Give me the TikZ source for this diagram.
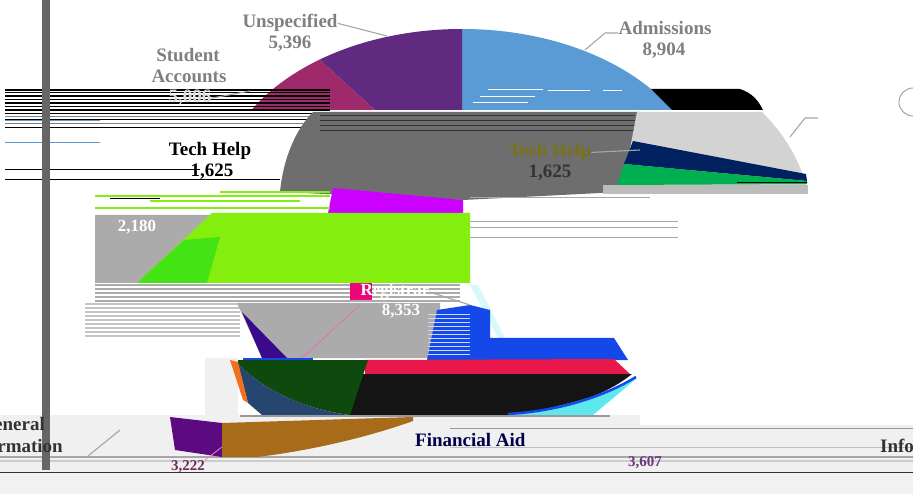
\documentclass[tikz,border=0pt]{standalone}
\usepackage{fontspec}
\setmainfont{Liberation Serif}
\definecolor{adm}{HTML}{5B9BD5}
\definecolor{unsp}{HTML}{5F2A80}
\definecolor{stud}{HTML}{9E2A6C}
\definecolor{dgray}{HTML}{6E6E6E}
\definecolor{lgray}{HTML}{D3D3D3}
\definecolor{navyc}{HTML}{002060}
\definecolor{grnc}{HTML}{00B050}
\definecolor{magc}{HTML}{CC00FF}
\definecolor{limec}{HTML}{84EE0E}
\definecolor{bgreen}{HTML}{44E414}
\definecolor{pgray}{HTML}{ABABAB}
\definecolor{indig}{HTML}{3B0A8C}
\definecolor{bluec}{HTML}{1448E8}
\definecolor{redc}{HTML}{E8184A}
\definecolor{blkc}{HTML}{141414}
\definecolor{dkgreen}{HTML}{0E4A0E}
\definecolor{steel}{HTML}{27466F}
\definecolor{orangec}{HTML}{F0701E}
\definecolor{purpc}{HTML}{5C0A80}
\definecolor{brownc}{HTML}{A86B1A}
\definecolor{cyanc}{HTML}{5EE8EE}
\definecolor{barc}{HTML}{666666}
\definecolor{bandc}{HTML}{F0F0F0}
\definecolor{labc}{HTML}{808080}
\tikzset{
  lab/.style={font=\fontsize{19}{21}\selectfont\bfseries, text=labc, inner sep=0pt, anchor=base},
  darklab/.style={font=\fontsize{19}{21}\selectfont\bfseries, text=black!80, inner sep=0pt, anchor=base},
  leader/.style={draw=gray!70, line width=1.1pt},
  stripe/.style={line width=1.3pt},
}
\begin{document}
\begin{tikzpicture}[x=1pt,y=-1pt]
\useasboundingbox (0,0) rectangle (913,494);
\fill[white] (0,0) rectangle (913,494);
% bottom band
\fill[bandc] (0,415) rectangle (913,472);
\fill[white] (640,415) rectangle (913,425);
\fill[bandc!90!white] (0,472) rectangle (913,494);
\draw[gray!80, line width=1pt] (450,428) -- (913,428);
\draw[gray!50, line width=1pt] (450,447) -- (913,447);
\draw[gray!70, line width=1.5pt] (0,457) -- (913,457);
\draw[gray!40, line width=1.2pt] (0,461) -- (913,461);
\draw[black!80, line width=0.8pt] (0,472) -- (913,472);

% top of the pie
\begin{scope}
  \clip (0,0) rectangle (913,110);
  \clip (462,189) ellipse [x radius=242pt, y radius=160pt];
  \fill[adm] (462,0) rectangle (913,110);
  \fill[unsp] (462,0) -- (462,110) -- (375,110) -- (254,0) -- cycle;
  \fill[stud] (0,0) -- (254,0) -- (375,110) -- (0,110) -- cycle;
\end{scope}
\foreach \a/\b/\y in {488/543/89, 548/590/90, 603/622/90, 480/535/96, 473/528/102}
  \draw[white, line width=0.9pt] (\a,\y) -- (\b,\y);
\fill[black] (651,89) -- (740,89) .. controls (752,93) and (758,100) .. (763,110) -- (672,110) -- cycle;

% stripes band at top-left
\foreach \y/\w in {90/1.4, 93/1.0, 96/1.6, 99/0.8, 103/1.4, 107/1.0, 110/1.6}
  \draw[black, line width=\w pt] (5,\y) -- (330,\y);
\foreach \y/\c in {114/black, 117/gray, 120/black, 124/gray, 128/black}
  \draw[\c, line width=1pt] (5,\y) -- (640,\y);
\draw[adm, line width=1pt] (5,121) -- (100,121);
\draw[adm, line width=1pt] (5,143) -- (100,143);
\draw[black, line width=1pt] (5,170) -- (200,170);
\draw[black, line width=1pt] (5,180) -- (280,180);

% dark gray region
\fill[dgray] (313,112) -- (640,112) -- (625,175) -- (620,192) -- (463,200) -- (280,192)
  .. controls (283,160) and (295,130) .. (313,112) -- cycle;
\foreach \y in {116,121,126,131}
  \draw[black!80, line width=1pt] (320,\y) -- (635,\y);
% light gray wedge at right
\fill[lgray] (637,112) -- (762,112) .. controls (785,135) and (800,160) .. (808,192) -- (620,192) -- (625,175) -- cycle;
\fill[navyc] (633,141) -- (806,174) -- (807,181) -- (624,164) -- cycle;
\fill[grnc] (624,164) -- (807,181) -- (807,184) -- (617,185) -- cycle;
\draw[black, line width=1pt] (737,183) -- (807,183);
\fill[pgray!80] (603,185) rectangle (808,194);
\foreach \y/\b in {198/650, 222/678, 228/678, 238/678}
  \draw[gray!70, line width=1pt] (470,\y) -- (\b,\y);

% magenta and lime regions
\fill[magc] (333,188) -- (463,200) -- (463,213) -- (328,213) -- cycle;
\fill[pgray] (95,215) -- (212,215) -- (137,283) -- (95,283) -- cycle;
\fill[limec] (212,213) -- (470,213) -- (470,283) -- (137,283) -- cycle;
\fill[bgreen] (184,240) -- (220,237) -- (207,283) -- (137,283) -- cycle;
\foreach \a/\b/\y in {220/330/192, 95/330/196, 150/300/201, 95/330/208}
  \draw[limec, line width=1.2pt] (\a,\y) -- (\b,\y);
\draw[black, line width=1pt] (110,199) -- (160,199);

% gray stripes below lime
\foreach \y in {285,289,293,297,301}
  \draw[pgray, line width=1.6pt] (95,\y) -- (460,\y);
\foreach \y in {304,308,312,316,320,324,328,332,336}
  \draw[pgray!70, line width=1.6pt] (85,\y) -- (240,\y);

% Registrar area
\fill[pgray] (237,303) -- (440,303) -- (440,358) -- (262,358) -- cycle;
\fill[indig] (242,312) -- (287,358) -- (262,358) -- cycle;
\fill[cyanc!25] (470,285) -- (478,285) -- (505,338) -- (498,338) -- cycle;
\fill[bluec] (437,310) -- (470,305) -- (490,310) -- (490,338) -- (614,338) -- (628,360) -- (427,360) -- cycle;
\foreach \y in {314,318,322,326,330,334,338,342,346,350,354}
  \draw[white!80!bluec, line width=0.9pt] (428,\y) -- (470,\y);
\fill[redc] (365,360) -- (614,359) -- (630,374) -- (365,374) -- cycle;
\fill[blkc] (355,374) -- (632,374) .. controls (600,400) and (550,412) .. (507,415) -- (350,415) -- cycle;
\fill[cyanc] (637,378) -- (593,415) -- (515,415) .. controls (570,405) and (610,393) .. (637,378) -- cycle;
\draw[bluec, line width=2.5pt] (636,377) .. controls (605,396) and (560,411) .. (508,414);
\fill[bandc] (205,358) rectangle (238,415);
\fill[dkgreen] (238,360) -- (368,360) -- (350,415) .. controls (310,410) and (270,395) .. (238,364) -- cycle;
\fill[steel] (238,364) .. controls (270,395) and (310,410) .. (350,415) -- (262,415) -- (248,403) -- cycle;
\fill[orangec] (230,360) -- (238,362) -- (248,403) -- (243,400) -- cycle;
\draw[bluec, line width=1.2pt] (243,359) -- (313,359);
\draw[gray!80, line width=2pt] (240,416) -- (610,416);

% bottom slices
\fill[purpc] (170,417) -- (222,423) -- (222,457) -- (175,450) -- cycle;
\fill[brownc] (222,423) -- (413,417) -- (413,421) .. controls (360,440) and (300,452) .. (257,457) -- (222,457) -- cycle;

% vertical bar
\fill[barc] (42,0) rectangle (50,470);
\draw[gray!70, line width=1pt] (913,88) arc[start angle=90, end angle=270, radius=14pt];

% labels
\node[lab] (admT) at (665,35) {Admissions};
\node[lab] (admV) at (664,56) {8,904};
\node[lab] (unsT) at (290,28) {Unspecified};
\node[lab] (unsV) at (290,49) {5,396};
\node[lab] (stuT) at (188,62) {Student};
\node[lab] (stuA) at (189,83) {Accounts};
\node[lab, text=white!85!black] (stuV) at (190,103) {5,006};
\node[font=\fontsize{19}{21}\selectfont\bfseries, text=olive!80!black, inner sep=0pt, anchor=base] (techT) at (550,157) {Tech Help};
\node[darklab] (techV) at (550,178) {1,625};
\node[darklab, text=black] (techT2) at (210,156) {Tech Help};
\node[darklab, text=black] (techV2) at (212,177) {1,625};
\node[lab, text=white, font=\fontsize{17}{19}\selectfont\bfseries] (leftV) at (137,232) {2,180};
\fill[magenta!80!red] (350,283) rectangle (372,300);
\node[lab, text=white, font=\fontsize{17}{19}\selectfont\bfseries] (regT) at (395,296) {Registrar};
\node[lab, text=white, font=\fontsize{17}{19}\selectfont\bfseries] (regV) at (401,316) {8,353};
\node[darklab, anchor=base east] (genT) at (45,430) {General};
\node[darklab, anchor=base east] (genI) at (63,452) {Information};
\node[darklab, anchor=base west, text=black!70!blue] (finT) at (415,446) {Financial Aid};
\node[lab, text=purpc!70!brownc, font=\fontsize{15}{17}\selectfont\bfseries] (genV) at (188,470) {3,222};
\node[lab, text=purpc!60!gray, font=\fontsize{15}{17}\selectfont\bfseries] (finV) at (645,466) {3,607};
\node[darklab, anchor=base west] (infR) at (880,452) {Information};

% leader lines
\coordinate (admP) at (585,50);
\coordinate (admK) at (605,33);
\coordinate (unsP) at (387,36);
\coordinate (stuP) at (250,91);
\coordinate (techP) at (640,150);
\coordinate (rgtP) at (790,137);
\coordinate (rgtK) at (805,118);
\coordinate (rgtE) at (818,118);
\coordinate (regP) at (470,305);
\coordinate (regM) at (302,358);
\coordinate (regN) at (360,305);
\coordinate (genP) at (120,430);
\coordinate (genK) at (88,456);
\coordinate (pP) at (222,447);
\coordinate (pK) at (205,460);
\draw[leader] (admP) -- (admK) -- (admT.west |- admK);
\draw[leader] (unsT.east) -- (unsP);
\draw[leader] (stuV.east) -- (stuP);
\draw[leader] (techT.east) -- (techP);
\draw[leader] (rgtP) -- (rgtK) -- (rgtE);
\draw[leader] (regT.east) -- (regP);
\draw[magenta!60, line width=0.8pt] (regN) -- (regM);
\draw[leader] (genP) -- (genK);
\draw[magenta!50, line width=0.8pt] (pP) -- (pK);
\end{tikzpicture}
\end{document}
